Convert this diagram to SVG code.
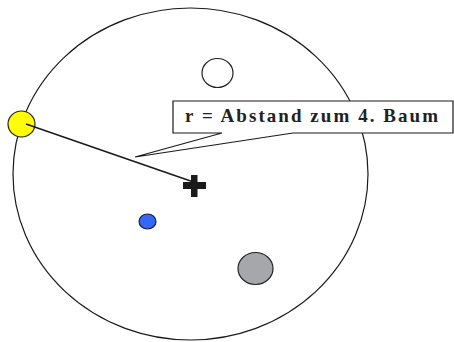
<svg xmlns="http://www.w3.org/2000/svg" width="454" height="342" viewBox="0 0 454 342">
<style>
.ln{fill:none;stroke:#1a1a1a;stroke-width:1.2}
.tree{stroke:#222;stroke-width:1.2}
.lbl{font-family:"Liberation Serif",serif;font-weight:bold;font-size:19px;fill:#222}
</style>
<rect width="454" height="342" fill="#fff"/>
<g id="plot">
<ellipse class="ln" cx="190.5" cy="174" rx="177.5" ry="166"/>
</g>
<g id="tree-white"><ellipse class="tree" cx="217.5" cy="73" rx="15.5" ry="14.5" fill="#fff"/></g>
<g id="tree-blue"><ellipse class="tree" cx="147.5" cy="221.5" rx="8.5" ry="7.5" fill="#3366ff"/></g>
<g id="tree-gray"><ellipse class="tree" cx="255.5" cy="268.5" rx="17.5" ry="16" fill="#a5a7aa"/></g>
<g id="tree-yellow"><ellipse class="tree" cx="21.5" cy="124" rx="13.5" ry="13" fill="#ffff00"/></g>
<g id="connectors">
<line x1="26" y1="124" x2="192" y2="181.5" stroke="#1a1a1a" stroke-width="1.5"/>
</g>
<g id="center">
<rect x="183" y="182" width="23" height="7" fill="#1a1a1a"/>
<rect x="191" y="175" width="6.5" height="22" fill="#1a1a1a"/>
</g>
<g id="callout">
<path d="M173,101 H453 V133 H293 L135,157 L222,133 H173 Z" fill="#fff" stroke="#1a1a1a" stroke-width="1.2"/>
<text class="lbl" x="185" y="122" textLength="253" lengthAdjust="spacing">r = Abstand zum 4. Baum</text>
</g>
</svg>
